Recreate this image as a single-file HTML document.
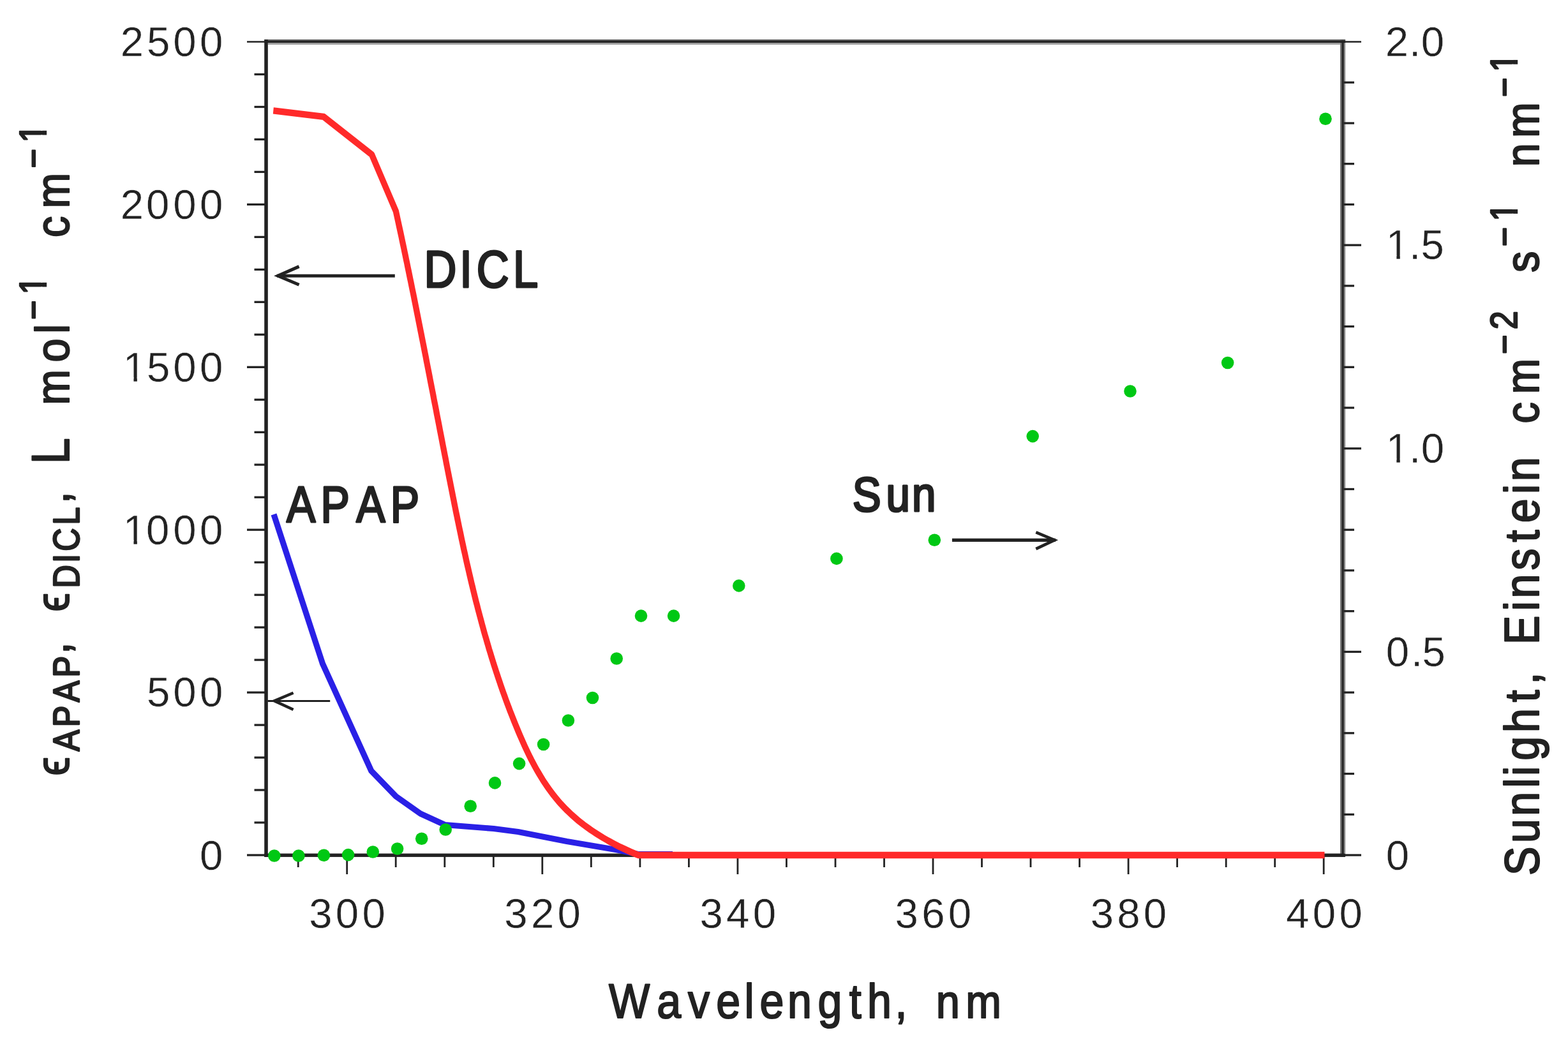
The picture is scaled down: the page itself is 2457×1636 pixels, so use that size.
<!DOCTYPE html>
<html lang="en">
<head>
<meta charset="utf-8">
<title>Absorption spectra of APAP and DICL with sunlight irradiance</title>
<style>
html,body{margin:0;padding:0;background:#ffffff;}
html{width:2457px;height:1636px;}
body{width:2457px;height:1636px;overflow:hidden;}
svg{display:block;}
text{white-space:pre;}
</style>
</head>
<body>
<svg width="2457" height="1636" viewBox="0 0 2457 1636" role="img" aria-label="Molar absorption coefficients of APAP and DICL and sunlight photon flux versus wavelength">
<rect x="0" y="0" width="2457" height="1636" fill="#ffffff"/>
<g stroke="none">
<rect x="2100.2" y="61.9" width="2.9" height="1280.8" fill="#606060"/>
<rect x="2103.0" y="61.9" width="2.9" height="1280.8" fill="#222222"/>
<rect x="2105.9" y="61.9" width="2.3" height="1275.6" fill="#8a8a8a"/>
<rect x="414.2" y="61.9" width="1693.9" height="1.9" fill="#4a4a4a"/>
<rect x="414.2" y="63.8" width="1693.9" height="3.3" fill="#222222"/>
<rect x="419.8" y="67.1" width="1680.4" height="2.8" fill="#9c9c9c"/>
<rect x="414.2" y="61.9" width="5.6" height="1281.0" fill="#222222"/>
<rect x="414.2" y="1337.5" width="1693.9" height="5.4" fill="#222222"/>
</g>
<g stroke="#222222" stroke-width="3.3" fill="none" stroke-linecap="butt">
<line x1="387" y1="1340.0" x2="417.0" y2="1340.0"/>
<line x1="398.5" y1="1289.0" x2="417.0" y2="1289.0"/>
<line x1="398.5" y1="1238.0" x2="417.0" y2="1238.0"/>
<line x1="398.5" y1="1187.1" x2="417.0" y2="1187.1"/>
<line x1="398.5" y1="1136.1" x2="417.0" y2="1136.1"/>
<line x1="387" y1="1085.1" x2="417.0" y2="1085.1"/>
<line x1="398.5" y1="1034.1" x2="417.0" y2="1034.1"/>
<line x1="398.5" y1="983.1" x2="417.0" y2="983.1"/>
<line x1="398.5" y1="932.2" x2="417.0" y2="932.2"/>
<line x1="398.5" y1="881.2" x2="417.0" y2="881.2"/>
<line x1="387" y1="830.2" x2="417.0" y2="830.2"/>
<line x1="398.5" y1="779.2" x2="417.0" y2="779.2"/>
<line x1="398.5" y1="728.2" x2="417.0" y2="728.2"/>
<line x1="398.5" y1="677.3" x2="417.0" y2="677.3"/>
<line x1="398.5" y1="626.3" x2="417.0" y2="626.3"/>
<line x1="387" y1="575.3" x2="417.0" y2="575.3"/>
<line x1="398.5" y1="524.3" x2="417.0" y2="524.3"/>
<line x1="398.5" y1="473.3" x2="417.0" y2="473.3"/>
<line x1="398.5" y1="422.4" x2="417.0" y2="422.4"/>
<line x1="398.5" y1="371.4" x2="417.0" y2="371.4"/>
<line x1="387" y1="320.4" x2="417.0" y2="320.4"/>
<line x1="398.5" y1="269.4" x2="417.0" y2="269.4"/>
<line x1="398.5" y1="218.4" x2="417.0" y2="218.4"/>
<line x1="398.5" y1="167.5" x2="417.0" y2="167.5"/>
<line x1="398.5" y1="116.5" x2="417.0" y2="116.5"/>
<line x1="387" y1="65.5" x2="417.0" y2="65.5" stroke-width="2.5"/>
<line x1="2105.7" y1="1340.0" x2="2133" y2="1340.0"/>
<line x1="2105.7" y1="1276.3" x2="2122" y2="1276.3"/>
<line x1="2105.7" y1="1212.5" x2="2122" y2="1212.5"/>
<line x1="2105.7" y1="1148.8" x2="2122" y2="1148.8"/>
<line x1="2105.7" y1="1085.1" x2="2122" y2="1085.1"/>
<line x1="2105.7" y1="1021.4" x2="2133" y2="1021.4"/>
<line x1="2105.7" y1="957.7" x2="2122" y2="957.7"/>
<line x1="2105.7" y1="893.9" x2="2122" y2="893.9"/>
<line x1="2105.7" y1="830.2" x2="2122" y2="830.2"/>
<line x1="2105.7" y1="766.5" x2="2122" y2="766.5"/>
<line x1="2105.7" y1="702.8" x2="2133" y2="702.8"/>
<line x1="2105.7" y1="639.0" x2="2122" y2="639.0"/>
<line x1="2105.7" y1="575.3" x2="2122" y2="575.3"/>
<line x1="2105.7" y1="511.6" x2="2122" y2="511.6"/>
<line x1="2105.7" y1="447.9" x2="2122" y2="447.9"/>
<line x1="2105.7" y1="384.1" x2="2133" y2="384.1"/>
<line x1="2105.7" y1="320.4" x2="2122" y2="320.4"/>
<line x1="2105.7" y1="256.7" x2="2122" y2="256.7"/>
<line x1="2105.7" y1="193.0" x2="2122" y2="193.0"/>
<line x1="2105.7" y1="129.2" x2="2122" y2="129.2"/>
<line x1="2105.7" y1="65.5" x2="2133" y2="65.5" stroke-width="2.5"/>
<line x1="467.2" y1="1340.0" x2="467.2" y2="1359" stroke-width="2.8"/>
<line x1="543.7" y1="1340.0" x2="543.7" y2="1370" stroke-width="2.8"/>
<line x1="620.2" y1="1340.0" x2="620.2" y2="1359" stroke-width="2.8"/>
<line x1="696.8" y1="1340.0" x2="696.8" y2="1359" stroke-width="2.8"/>
<line x1="773.3" y1="1340.0" x2="773.3" y2="1359" stroke-width="2.8"/>
<line x1="849.8" y1="1340.0" x2="849.8" y2="1370" stroke-width="2.8"/>
<line x1="926.3" y1="1340.0" x2="926.3" y2="1359" stroke-width="2.8"/>
<line x1="1002.9" y1="1340.0" x2="1002.9" y2="1359" stroke-width="2.8"/>
<line x1="1079.4" y1="1340.0" x2="1079.4" y2="1359" stroke-width="2.8"/>
<line x1="1155.9" y1="1340.0" x2="1155.9" y2="1370" stroke-width="2.8"/>
<line x1="1232.4" y1="1340.0" x2="1232.4" y2="1359" stroke-width="2.8"/>
<line x1="1309.0" y1="1340.0" x2="1309.0" y2="1359" stroke-width="2.8"/>
<line x1="1385.5" y1="1340.0" x2="1385.5" y2="1359" stroke-width="2.8"/>
<line x1="1462.0" y1="1340.0" x2="1462.0" y2="1370" stroke-width="2.8"/>
<line x1="1538.5" y1="1340.0" x2="1538.5" y2="1359" stroke-width="2.8"/>
<line x1="1615.0" y1="1340.0" x2="1615.0" y2="1359" stroke-width="2.8"/>
<line x1="1691.6" y1="1340.0" x2="1691.6" y2="1359" stroke-width="2.8"/>
<line x1="1768.1" y1="1340.0" x2="1768.1" y2="1370" stroke-width="2.8"/>
<line x1="1844.6" y1="1340.0" x2="1844.6" y2="1359" stroke-width="2.8"/>
<line x1="1921.2" y1="1340.0" x2="1921.2" y2="1359" stroke-width="2.8"/>
<line x1="1997.7" y1="1340.0" x2="1997.7" y2="1359" stroke-width="2.8"/>
<line x1="2074.2" y1="1340.0" x2="2074.2" y2="1370" stroke-width="2.8"/>
</g>
<polyline points="429.0,806.0 505.5,1040.0 581.8,1208.0 620.5,1248.0 658.8,1275.0 697.0,1292.5 735.2,1295.5 773.5,1298.5 811.8,1303.5 850.0,1311.0 888.2,1318.5 926.5,1325.0 964.8,1331.5 1000.0,1338.5 1054.0,1338.5" fill="none" stroke="#2a20e6" stroke-width="9.2" stroke-linejoin="round" stroke-linecap="butt"/>
<polyline transform="scale(0.9,1)" points="475.9,173.4 563.3,182.8 647.3,242.3 689.3,331.0 690.7,336.8 692.1,342.6 693.5,348.4 694.9,354.2 696.3,360.0 697.7,365.8 699.1,371.6 700.4,377.4 701.8,383.3 703.2,389.1 704.5,394.9 705.9,400.8 707.2,406.6 708.6,412.4 709.9,418.3 711.3,424.2 712.6,430.0 713.9,435.9 715.3,441.7 716.6,447.6 717.9,453.5 719.3,459.4 720.6,465.2 721.9,471.1 723.2,477.0 724.5,482.9 725.8,488.8 727.1,494.7 728.4,500.6 729.7,506.5 731.0,512.4 732.3,518.3 733.6,524.2 734.9,530.1 736.2,536.0 737.5,541.9 738.8,547.9 740.1,553.8 741.4,559.7 742.6,565.6 743.9,571.5 745.2,577.5 746.5,583.4 747.8,589.3 749.0,595.2 750.3,601.2 751.6,607.1 752.9,613.0 754.2,618.9 755.4,624.9 756.7,630.8 758.0,636.7 759.3,642.7 760.5,648.6 761.8,654.5 763.1,660.4 764.4,666.4 765.6,672.3 766.9,678.2 768.2,684.2 769.5,690.1 770.7,696.0 772.0,701.9 773.3,707.9 774.6,713.8 775.9,719.7 777.1,725.6 778.4,731.5 779.7,737.5 781.0,743.4 782.3,749.3 783.6,755.2 784.9,761.1 786.2,767.0 787.5,772.9 788.8,778.8 790.1,784.7 791.4,790.6 792.7,796.5 794.0,802.4 795.4,808.3 796.7,814.2 798.1,820.1 799.4,826.0 800.8,831.8 802.2,837.7 803.5,843.6 804.9,849.4 806.3,855.3 807.7,861.2 809.2,867.0 810.6,872.9 812.0,878.7 813.5,884.6 815.0,890.4 816.5,896.2 818.0,902.1 819.5,907.9 821.0,913.7 822.6,919.5 824.1,925.3 825.7,931.2 827.3,937.0 828.9,942.8 830.6,948.5 832.2,954.3 833.9,960.1 835.6,965.9 837.3,971.6 839.0,977.4 840.8,983.2 842.5,988.9 844.3,994.7 846.2,1000.4 848.0,1006.1 849.9,1011.9 851.7,1017.6 853.7,1023.3 855.6,1029.0 857.6,1034.7 859.5,1040.4 861.6,1046.1 863.6,1051.7 865.7,1057.4 867.8,1063.1 869.9,1068.7 872.0,1074.4 874.2,1080.0 876.4,1085.6 878.7,1091.3 880.9,1096.9 883.2,1102.5 885.6,1108.1 887.9,1113.7 890.3,1119.2 892.8,1124.8 895.2,1130.4 897.7,1135.9 900.3,1141.5 902.8,1147.0 905.4,1152.5 908.1,1158.0 910.8,1163.5 913.5,1169.0 916.3,1174.4 919.2,1179.9 922.1,1185.2 925.1,1190.6 928.2,1195.9 931.3,1201.1 934.5,1206.4 937.9,1211.5 941.3,1216.6 944.7,1221.7 948.3,1226.7 952.0,1231.6 955.8,1236.5 959.7,1241.3 963.7,1246.1 967.9,1250.7 972.1,1255.3 976.5,1259.8 981.1,1264.2 985.7,1268.5 990.5,1272.7 995.4,1276.9 1000.5,1280.9 1005.6,1284.9 1010.9,1288.7 1016.3,1292.5 1021.8,1296.1 1027.3,1299.7 1033.0,1303.1 1038.7,1306.5 1044.5,1309.8 1050.3,1313.0 1056.1,1316.0 1062.0,1319.0 1068.0,1321.9 1073.9,1324.7 1079.9,1327.4 1085.9,1329.9 1091.8,1332.4 1097.8,1334.8 1103.7,1337.1 1109.6,1339.3 1111.7,1340.0 2306.1,1340.0" fill="none" stroke="#ff2a2a" stroke-width="10.4" stroke-linejoin="round" stroke-linecap="butt"/>
<g fill="#00c814">
<circle cx="429.8" cy="1341.0" r="9.8"/>
<circle cx="467.9" cy="1341.0" r="9.8"/>
<circle cx="507.4" cy="1340.2" r="9.8"/>
<circle cx="545.6" cy="1339.6" r="9.8"/>
<circle cx="584.3" cy="1335.0" r="9.8"/>
<circle cx="622.6" cy="1330.0" r="9.8"/>
<circle cx="660.7" cy="1314.2" r="9.8"/>
<circle cx="698.2" cy="1300.0" r="9.8"/>
<circle cx="737.2" cy="1263.2" r="9.8"/>
<circle cx="775.5" cy="1226.9" r="9.8"/>
<circle cx="813.6" cy="1196.6" r="9.8"/>
<circle cx="851.6" cy="1166.5" r="9.8"/>
<circle cx="890.4" cy="1129.0" r="9.8"/>
<circle cx="928.5" cy="1093.5" r="9.8"/>
<circle cx="966.2" cy="1032.0" r="9.8"/>
<circle cx="1004.5" cy="965.1" r="9.8"/>
<circle cx="1055.6" cy="965.1" r="9.8"/>
<circle cx="1157.8" cy="917.9" r="9.8"/>
<circle cx="1310.9" cy="875.4" r="9.8"/>
<circle cx="1464.3" cy="846.2" r="9.8"/>
<circle cx="1618.2" cy="683.6" r="9.8"/>
<circle cx="1771.0" cy="613.0" r="9.8"/>
<circle cx="1923.7" cy="568.5" r="9.8"/>
<circle cx="2077.0" cy="186.2" r="9.8"/>
</g>
<g stroke="#222222" fill="none" stroke-linecap="butt" stroke-linejoin="miter">
<path d="M618.8,432.2 H434" stroke-width="5"/>
<path d="M468.6,417.6 L435.5,432.2 L468.6,446.2" stroke-width="5"/>
<path d="M517.2,1098.4 H419.5" stroke-width="3"/>
<path d="M459.6,1085.7 L429.8,1098.4 L459.6,1112" stroke-width="4.5"/>
<path d="M1491.9,846.4 H1654" stroke-width="5.4"/>
<path d="M1623.3,834.2 L1652.5,846.4 L1623.3,860.2" stroke-width="4.6"/>
</g>
<g font-family='"Liberation Sans", Arial, Helvetica, sans-serif' fill="#222222">
<text x="188.74 230.11 271.14 313.04" y="87.86" font-size="65.3" stroke="#ffffff" stroke-width="0.4">2500</text>
<text x="188.74 228.94 271.14 313.04" y="342.76" font-size="65.3" stroke="#ffffff" stroke-width="0.4">2000</text>
<text x="192.86 230.11 271.14 313.04" y="597.66" font-size="65.3" stroke="#ffffff" stroke-width="0.4">1500</text>
<rect x="195.53" y="591.37" width="13.93" height="8.10" fill="#ffffff" stroke="none"/>
<rect x="214.87" y="591.37" width="13.41" height="8.10" fill="#ffffff" stroke="none"/>
<text x="192.86 228.94 271.14 313.04" y="852.56" font-size="65.3" stroke="#ffffff" stroke-width="0.4">1000</text>
<rect x="195.53" y="846.27" width="13.93" height="8.10" fill="#ffffff" stroke="none"/>
<rect x="214.87" y="846.27" width="13.41" height="8.10" fill="#ffffff" stroke="none"/>
<text x="230.11 271.14 313.04" y="1107.46" font-size="65.3" stroke="#ffffff" stroke-width="0.4">500</text>
<text x="313.04" y="1362.76" font-size="65.3" stroke="#ffffff" stroke-width="0.4">0</text>
<text x="484.27 525.87 567.47" y="1454.16" font-size="65.3" stroke="#ffffff" stroke-width="0.4">300</text>
<text x="790.37 831.97 873.57" y="1454.16" font-size="65.3" stroke="#ffffff" stroke-width="0.4">320</text>
<text x="1096.47 1138.07 1179.67" y="1454.16" font-size="65.3" stroke="#ffffff" stroke-width="0.4">340</text>
<text x="1402.57 1444.17 1485.77" y="1454.16" font-size="65.3" stroke="#ffffff" stroke-width="0.4">360</text>
<text x="1708.67 1750.27 1791.87" y="1454.16" font-size="65.3" stroke="#ffffff" stroke-width="0.4">380</text>
<text x="2015.27 2056.87 2098.47" y="1454.16" font-size="65.3" stroke="#ffffff" stroke-width="0.4">400</text>
<text x="2170.64 2207.93 2226.79" y="87.86" font-size="65.3" stroke="#ffffff" stroke-width="0.4">2.0</text>
<text x="2171.76 2207.93 2226.41" y="406.49" font-size="65.3" stroke="#ffffff" stroke-width="0.4">1.5</text>
<rect x="2174.43" y="400.19" width="13.93" height="8.10" fill="#ffffff" stroke="none"/>
<rect x="2193.77" y="400.19" width="13.41" height="8.10" fill="#ffffff" stroke="none"/>
<text x="2171.76 2207.93 2226.79" y="725.11" font-size="65.3" stroke="#ffffff" stroke-width="0.4">1.0</text>
<rect x="2174.43" y="718.82" width="13.93" height="8.10" fill="#ffffff" stroke="none"/>
<rect x="2193.77" y="718.82" width="13.41" height="8.10" fill="#ffffff" stroke="none"/>
<text x="2171.79 2210.93 2228.51" y="1043.74" font-size="65.3" stroke="#ffffff" stroke-width="0.4">0.5</text>
<text x="2171.79" y="1362.76" font-size="65.3" stroke="#ffffff" stroke-width="0.4">0</text>
<g transform="scale(0.87,1)" stroke-linejoin="round">
<text x="763.68 827.94 858.28 924.12" y="449.60" font-size="81.0" stroke="#222222" stroke-width="3.2">DICL</text>
</g>
<g transform="scale(0.85,1)" stroke-linejoin="round">
<text x="528.14 591.27 656.79 719.62" y="817.90" font-size="80.0" stroke="#222222" stroke-width="3.2">APAP</text>
</g>
<g transform="scale(0.89,1)" stroke-linejoin="round">
<text x="1500.91 1560.24 1605.69" y="801.20" font-size="75.5" stroke="#222222" stroke-width="3.2">Sun</text>
</g>
<g transform="scale(0.89,1)" stroke-linejoin="round">
<text x="1071.95 1156.48 1211.16 1260.94 1310.58 1337.62 1386.42 1439.87 1495.31 1526.93 1575.95" y="1595.20" font-size="76.5" stroke="#222222" stroke-width="2.2">Wavelength,</text>
</g>
<g transform="scale(0.89,1)" stroke-linejoin="round">
<text x="1647.91 1700.26" y="1595.20" font-size="75.0" stroke="#222222" stroke-width="2.2">nm</text>
</g>
<g transform="translate(108.7,0) rotate(-90) scale(0.89,1)" stroke-linejoin="round">
<text x="-1365.67" y="-1.10" font-size="75.0" stroke="#222222" stroke-width="2.2">ϵ</text>
<text x="-1322.78 -1280.06 -1236.20 -1192.70" y="15.00" font-size="56.5" stroke="#222222" stroke-width="2.4">APAP</text>
<text x="-1151.60" y="-1.10" font-size="75.0" stroke="#222222" stroke-width="2.2">,</text>
<text x="-1076.91" y="-1.10" font-size="75.0" stroke="#222222" stroke-width="2.2">ϵ</text>
<text x="-1035.52 -991.05 -970.42 -924.28" y="15.00" font-size="56.5" stroke="#222222" stroke-width="2.4">DICL</text>
<text x="-886.49" y="-1.10" font-size="75.0" stroke="#222222" stroke-width="2.2">,</text>
<text x="-817.26" y="-1.10" font-size="82.5" stroke="#222222" stroke-width="2.2">L</text>
<text x="-713.17 -637.71 -587.51" y="-1.10" font-size="75.0" stroke="#222222" stroke-width="2.2">mol</text>
<text x="-562.83 -518.60" y="-37.20" font-size="58.5" stroke="#222222" stroke-width="2.4">−1</text>
<rect x="-517.85" y="-44.39" width="12.74" height="10.39" fill="#ffffff" stroke="none"/>
<rect x="-497.51" y="-44.39" width="12.27" height="10.39" fill="#ffffff" stroke="none"/>
<text x="-417.89 -366.82" y="-1.10" font-size="75.0" stroke="#222222" stroke-width="2.2">cm</text>
<text x="-296.14 -251.12" y="-37.20" font-size="58.5" stroke="#222222" stroke-width="2.4">−1</text>
<rect x="-250.38" y="-44.39" width="12.74" height="10.39" fill="#ffffff" stroke="none"/>
<rect x="-230.03" y="-44.39" width="12.27" height="10.39" fill="#ffffff" stroke="none"/>
</g>
<g transform="translate(2412,0) rotate(-90) scale(0.89,1)" stroke-linejoin="round">
<text x="-1541.67 -1484.19 -1436.95 -1387.00 -1366.01 -1339.12 -1289.76 -1236.38 -1204.95" y="-1.10" font-size="76.5" stroke="#222222" stroke-width="2.2">Sunlight,</text>
<text x="-1134.76 -1075.67 -1053.30 -1003.92 -954.47 -920.52 -869.55 -847.40" y="-1.10" font-size="76.5" stroke="#222222" stroke-width="2.2">Einstein</text>
<text x="-745.42 -693.73" y="-1.10" font-size="75.0" stroke="#222222" stroke-width="2.2">cm</text>
<text x="-623.61 -580.14" y="-35.40" font-size="58.5" stroke="#222222" stroke-width="2.4">−2</text>
<text x="-479.90" y="-1.10" font-size="75.0" stroke="#222222" stroke-width="2.2">s</text>
<text x="-433.95 -389.72" y="-35.40" font-size="58.5" stroke="#222222" stroke-width="2.4">−1</text>
<rect x="-388.97" y="-42.59" width="12.74" height="10.39" fill="#ffffff" stroke="none"/>
<rect x="-368.63" y="-42.59" width="12.27" height="10.39" fill="#ffffff" stroke="none"/>
<text x="-293.83 -242.72" y="-1.10" font-size="75.0" stroke="#222222" stroke-width="2.2">nm</text>
<text x="-170.92 -126.63" y="-35.40" font-size="58.5" stroke="#222222" stroke-width="2.4">−1</text>
<rect x="-125.88" y="-42.59" width="12.74" height="10.39" fill="#ffffff" stroke="none"/>
<rect x="-105.54" y="-42.59" width="12.27" height="10.39" fill="#ffffff" stroke="none"/>
</g>
</g>
</svg>
</body>
</html>
